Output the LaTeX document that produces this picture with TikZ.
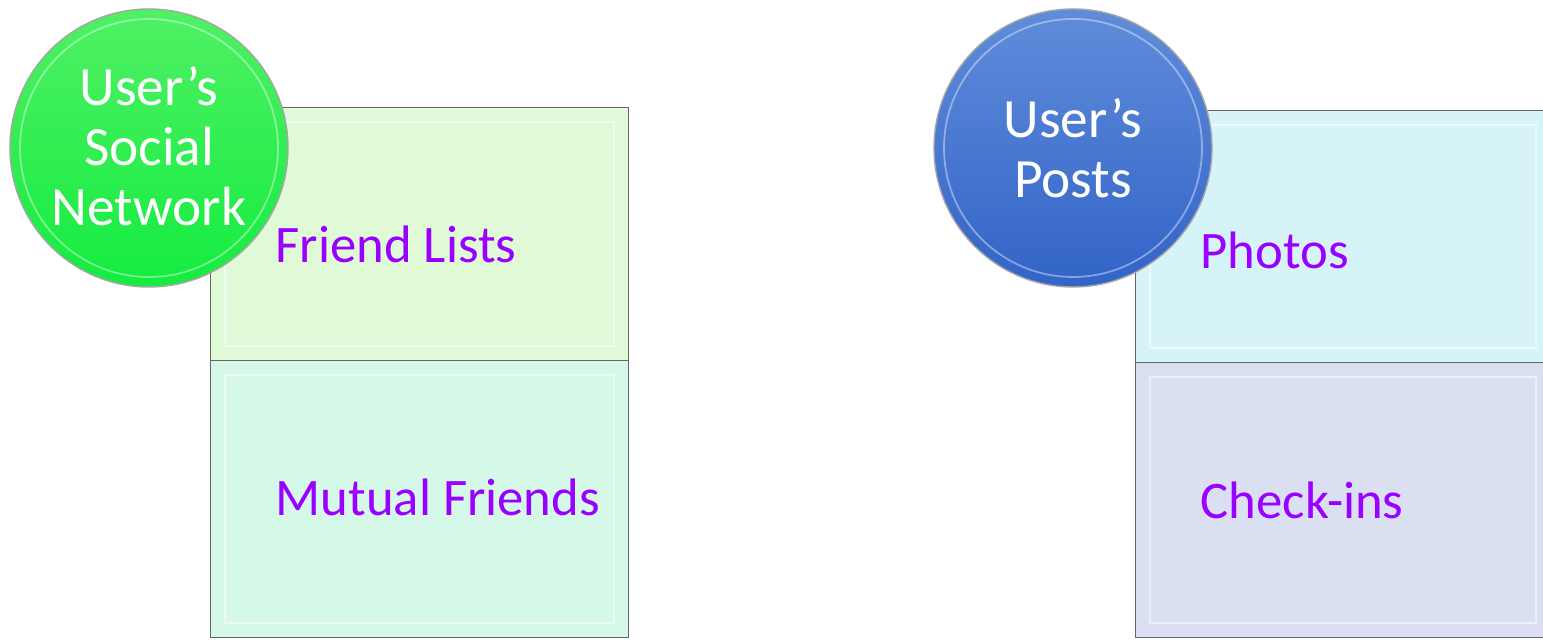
\documentclass[tikz,border=0pt]{standalone}
\usepackage{fontspec}
\setmainfont{Carlito}
\usetikzlibrary{positioning}

\definecolor{itempurple}{RGB}{153,0,255}
\definecolor{flgreen}{RGB}{224,250,216}
\definecolor{mfgreen}{RGB}{214,248,232}
\definecolor{phcyan}{RGB}{214,243,248}
\definecolor{cilav}{RGB}{219,223,242}
\definecolor{gtop}{RGB}{80,240,100}
\definecolor{gbot}{RGB}{20,236,64}
\definecolor{btop}{RGB}{96,140,218}
\definecolor{bbot}{RGB}{50,100,200}

\tikzset{
  panel/.style={draw=black!60, line width=0.8pt, anchor=north west, inner sep=0pt},
  bevel/.style={draw=white, line width=1.2pt, opacity=0.5},
  badge/.style={circle, draw=black!35, line width=0.8pt, minimum size=5.56cm, inner sep=0pt},
  badgetext/.style={text=white, align=center, font=\fontsize{31.5}{34}\selectfont},
  itemtext/.style={text=itempurple, anchor=west, font=\fontsize{30}{34}\selectfont}
}

\begin{document}
\begin{tikzpicture}
  \useasboundingbox (0,0) rectangle (30.86,12.8);

  % Social network panels
  \node[panel, fill=flgreen, minimum width=8.36cm, minimum height=5.06cm] (fl) at (4.2,10.66) {};
  \node[panel, fill=mfgreen, minimum width=8.36cm, minimum height=5.54cm] (mf) at (4.2,5.6) {};
  \draw[bevel] ([shift={(0.3,0.3)}]fl.south west) rectangle ([shift={(-0.3,-0.3)}]fl.north east);
  \draw[bevel] ([shift={(0.3,0.3)}]mf.south west) rectangle ([shift={(-0.3,-0.3)}]mf.north east);
  \node[itemtext] (fltxt) at (5.39,7.92) {Friend Lists};
  \node[itemtext] (mftxt) at (5.39,2.86) {Mutual Friends};

  % Posts panels
  \node[panel, fill=phcyan, minimum width=8.3cm, minimum height=5.04cm] (ph) at (22.7,10.6) {};
  \node[panel, fill=cilav, minimum width=8.3cm, minimum height=5.5cm] (ci) at (22.7,5.56) {};
  \draw[bevel] ([shift={(0.3,0.3)}]ph.south west) rectangle ([shift={(-0.3,-0.3)}]ph.north east);
  \draw[bevel] ([shift={(0.3,0.3)}]ci.south west) rectangle ([shift={(-0.3,-0.3)}]ci.north east);
  \node[itemtext] (phtxt) at (23.89,7.8) {Photos};
  \node[itemtext] (citxt) at (23.89,2.8) {Check-ins};

  % Badges
  \node[badge, top color=gtop, bottom color=gbot] (social) at (2.98,9.84) {};
  \draw[white, opacity=0.4, line width=1pt] (social.center) circle (2.58);
  \node[badgetext] (socialtxt) at ([yshift=0.04cm]social.center) {User’s\\Social\\Network};

  \node[badge, top color=btop, bottom color=bbot] (posts) at (21.46,9.84) {};
  \draw[white, opacity=0.4, line width=1pt] (posts.center) circle (2.58);
  \node[badgetext] (poststxt) at (posts.center) {User’s\\Posts};
\end{tikzpicture}
\end{document}
